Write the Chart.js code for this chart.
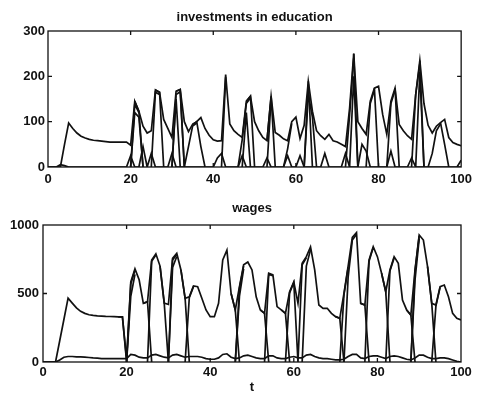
<!DOCTYPE html>
<html>
<head>
<meta charset="utf-8">
<script src="https://cdn.jsdelivr.net/npm/chart.js@4.4.1/dist/chart.umd.min.js"></script>
<style>
  html, body { margin: 0; padding: 0; background: #fff; }
  #wrap { position: relative; width: 477px; height: 405px; }
  .panel { position: absolute; left: 0; width: 477px; }
</style>
</head>
<body>
<div id="wrap">
  <div class="panel" style="top:0;height:195px"><canvas id="invChart"></canvas></div>
  <div class="panel" style="top:195px;height:210px"><canvas id="wageChart"></canvas></div>
</div>
<script>
const N = null;

// time steps t = 0..100
const tSteps = Array.from({ length: 101 }, (_, i) => i);
const xTicks = [0, 20, 40, 60, 80, 100];
const invTicks = [0, 100, 200, 300];
const wageTicks = [0, 500, 1000];

// ---- investments in education ----
const invMain = [
  0, 0, 0, 0, 50, 97, 85, 75, 68, 64,
  61, 59, 58, 57, 56, 55, 55, 55, 55, 55,
  48, 145, 123, 90, 75, 80, 170, 165, 105, 85,
  65, 167, 171, 100, 78, 94, 100, 109, 85, 70,
  60, 57, 58, 204, 95, 80, 72, 65, 145, 156,
  100, 80, 65, 58, 156, 76, 70, 62, 58, 100,
  110, 63, 92, 189, 123, 80, 69, 61, 72, 58,
  55, 50, 45, 130, 250, 100, 85, 72, 145, 174,
  178, 116, 72, 145, 174, 94, 80, 69, 61, 160,
  235, 140, 92, 75, 90, 98, 105, 65, 54, 50,
  47
];
const invRise = [
  N, N, N, N, N, N, N, N, N, N,
  N, N, N, N, N, N, N, N, N, N,
  0, 138, 120, N, N, 0, 165, 160, N, N,
  0, 160, 166, 0, 45, 90, 97, N, N, N,
  N, N, 0, 198, N, N, 0, 60, 140, 152,
  N, N, N, 0, 150, N, N, 0, 40, 96,
  N, N, 0, 182, N, N, N, N, N, N,
  N, N, 0, 115, 240, N, N, 0, 140, 170,
  N, N, 0, 140, 170, N, N, N, 0, 160,
  228, N, 0, 30, 80, 95, N, N, N, 0,
  15
];
const invRise2 = [
  N, N, N, N, N, N, N, N, N, N,
  N, N, N, N, N, N, N, N, N, N,
  0, 120, 110, 0, N, N, N, N, N, N,
  0, 150, 0, N, N, N, N, N, N, N,
  N, N, N, N, N, N, N, 0, 120, 0,
  N, N, N, N, N, N, N, N, N, N,
  N, N, 0, 160, 110, 0, N, N, N, N,
  N, N, N, 0, 200, 0, N, N, N, N,
  N, N, N, N, N, N, N, N, N, 0,
  210, 0, N, N, N, N, N, N, N, N,
  N
];
const invDrop = [
  N, N, N, N, N, N, N, N, N, N,
  N, N, N, N, N, N, N, N, N, N,
  N, 145, 123, 0, N, N, 170, 165, 0, N,
  N, 167, 171, 0, N, 94, 100, 45, 0, N,
  N, N, N, N, N, N, N, N, 145, 156,
  0, N, N, 58, 156, 0, N, N, N, N,
  N, N, N, 189, 0, N, N, N, N, N,
  N, N, N, N, 250, 0, N, N, N, 174,
  0, N, N, N, 174, 0, N, N, N, N,
  235, 0, N, N, N, 98, 50, 0, N, N,
  N
];
const invSmall = [
  0, 0, 0, 5, 3, 0, 0, 0, 0, 0,
  0, 0, 0, 0, 0, 0, 0, 0, 0, 0,
  25, 0, 0, 45, 0, 30, 0, 0, 0, 0,
  30, 0, 0, 0, 0, 0, 0, 0, 0, 0,
  0, 20, 30, 0, 0, 0, 0, 25, 0, 0,
  0, 0, 0, 20, 0, 0, 0, 0, 25, 0,
  0, 25, 0, 0, 0, 0, 0, 30, 0, 0,
  0, 0, 30, 0, 0, 0, 50, 35, 0, 0,
  0, 0, 0, 35, 0, 0, 0, 0, 20, 0,
  0, 0, 0, 0, 0, 0, 0, 0, 0, 0,
  0
];

// ---- wages ----
const wageMain = [
  0, 0, 0, 0, 155, 310, 466, 430, 395, 370,
  355, 345, 340, 337, 335, 333, 332, 331, 330, 330,
  20, 584, 680, 600, 428, 440, 745, 790, 700, 430,
  420, 757, 793, 672, 465, 476, 555, 550, 465, 380,
  331, 331, 428, 745, 817, 500, 380, 550, 709, 730,
  672, 476, 380, 355, 648, 636, 404, 380, 355, 513,
  585, 428, 720, 769, 840, 672, 416, 392, 392, 355,
  331, 319, 500, 700, 910, 945, 428, 416, 745, 842,
  769, 648, 513, 672, 769, 720, 452, 380, 343, 672,
  927, 890, 696, 428, 416, 550, 562, 476, 355, 319,
  307
];
const wageRise = [
  N, N, N, N, N, N, N, N, N, N,
  N, N, N, N, N, N, N, N, N, N,
  0, 570, 670, N, N, 0, 735, 780, N, N,
  0, 745, 785, N, 0, 470, 550, N, N, N,
  N, N, N, N, N, N, 0, 540, 700, N,
  N, N, N, 0, 640, 630, N, N, 0, 505,
  580, 0, 710, 760, N, N, N, N, N, N,
  N, 0, 490, 690, N, N, N, 0, 735, 835,
  N, N, 0, 665, 760, N, N, N, 0, 665,
  920, N, N, 0, 410, 545, N, N, N, N,
  N
];
const wageRise2 = [
  N, N, N, N, N, N, N, N, N, N,
  N, N, N, N, N, N, N, N, N, N,
  0, 480, 640, N, N, N, N, N, N, N,
  0, 690, 770, N, N, N, N, N, N, N,
  N, N, N, N, N, N, 0, 480, 680, N,
  N, N, N, N, N, N, N, N, N, N,
  N, N, 0, 700, 820, N, N, N, N, N,
  N, N, 0, 620, 890, 930, N, N, N, N,
  N, N, N, N, N, N, N, N, 0, 600,
  900, N, N, N, N, N, N, N, N, N,
  N
];
const wageDrop = [
  N, N, N, N, N, N, N, N, N, N,
  N, N, N, N, N, N, N, N, 330, 330,
  0, N, N, N, 428, 440, 0, N, 700, 430,
  0, N, N, 672, 465, 0, N, N, N, N,
  N, N, N, N, N, 500, 380, 0, N, N,
  N, N, 380, 355, 0, N, N, 380, 355, 0,
  N, N, N, N, N, N, N, N, N, N,
  331, 319, 0, N, N, N, 428, 416, 0, N,
  N, 648, 513, 0, N, N, N, 380, 343, 0,
  N, N, 696, 428, 0, N, N, N, N, N,
  N
];
const wageLow = [
  0, 0, 0, 0, 15, 35, 40, 40, 38, 37,
  36, 33, 30, 28, 25, 25, 25, 25, 25, 25,
  25, 55, 50, 35, 30, 30, 50, 55, 45, 35,
  30, 50, 55, 45, 35, 40, 40, 40, 35, 25,
  20, 20, 30, 55, 60, 35, 25, 30, 45, 50,
  40, 30, 25, 25, 45, 45, 30, 25, 25, 35,
  40, 30, 30, 50, 55, 40, 30, 25, 25, 20,
  15, 15, 20, 40, 55, 55, 30, 25, 40, 45,
  45, 35, 25, 40, 45, 40, 30, 20, 15, 30,
  50, 50, 35, 25, 25, 30, 30, 25, 15, 5,
  0
];

const INK = '#111';
const FONT = "'Liberation Sans', Arial, Helvetica, sans-serif";
Chart.defaults.font.family = FONT;
Chart.defaults.color = INK;

function toPoints(values) {
  return tSteps.map((t, i) => ({ x: t, y: values[i] }));
}

function lineSet(values) {
  return {
    data: toPoints(values),
    borderColor: INK,
    borderWidth: 1.7,
    pointRadius: 0,
    fill: false,
    tension: 0,
    spanGaps: false
  };
}

// box around the plot plus small inward ticks (matlab style)
const framePlugin = {
  id: 'frame',
  afterDatasetsDraw(chart) {
    const { ctx, chartArea: a, scales: { x, y } } = chart;
    const len = 4;
    ctx.save();
    ctx.strokeStyle = INK;
    ctx.lineWidth = 1.3;
    ctx.strokeRect(a.left, a.top, a.right - a.left, a.bottom - a.top);
    ctx.beginPath();
    x.ticks.forEach(tk => {
      if (tk.value <= x.min || tk.value >= x.max) return;
      const px = x.getPixelForValue(tk.value);
      ctx.moveTo(px, a.bottom); ctx.lineTo(px, a.bottom - len);
      ctx.moveTo(px, a.top); ctx.lineTo(px, a.top + len);
    });
    y.ticks.forEach(tk => {
      if (tk.value <= y.min || tk.value >= y.max) return;
      const py = y.getPixelForValue(tk.value);
      ctx.moveTo(a.left, py); ctx.lineTo(a.left + len, py);
      ctx.moveTo(a.right, py); ctx.lineTo(a.right - len, py);
    });
    ctx.stroke();
    ctx.restore();
  }
};

function makeChart(id, cfg) {
  const tickFont = { size: 13, weight: 'bold' };
  return new Chart(document.getElementById(id), {
    type: 'line',
    data: { datasets: cfg.series.map(lineSet) },
    options: {
      responsive: true,
      maintainAspectRatio: false,
      animation: false,
      devicePixelRatio: 1,
      layout: { padding: { left: 0, right: cfg.padRight, top: 0, bottom: 0 } },
      plugins: {
        legend: { display: false },
        tooltip: { enabled: false },
        title: {
          display: true,
          text: cfg.title,
          fullSize: false,
          color: INK,
          font: { size: 13, weight: 'bold' },
          padding: cfg.titlePad
        }
      },
      scales: {
        x: {
          type: 'linear',
          min: 0,
          max: 100,
          grid: { display: false, drawTicks: false },
          border: { display: false },
          afterBuildTicks: s => { s.ticks = xTicks.map(v => ({ value: v })); },
          ticks: { font: tickFont, color: INK, padding: cfg.xPad, maxRotation: 0, callback: v => String(v) },
          title: cfg.xTitle ? {
            display: true, text: cfg.xTitle, color: INK,
            font: { size: 13, weight: 'bold' }, padding: { top: 0, bottom: cfg.xTitlePad }
          } : { display: false },
          afterFit: s => { s.height = cfg.xHeight; }
        },
        y: {
          min: 0,
          max: cfg.yTicks[cfg.yTicks.length - 1],
          grid: { display: false, drawTicks: false },
          border: { display: false },
          afterBuildTicks: s => { s.ticks = cfg.yTicks.map(v => ({ value: v })); },
          ticks: { font: tickFont, color: INK, padding: cfg.yPad, callback: v => String(v) },
          afterFit: s => { s.width = cfg.yWidth; }
        }
      }
    },
    plugins: [framePlugin]
  });
}

makeChart('invChart', {
  title: 'investments in education',
  series: [invMain, invRise, invRise2, invDrop, invSmall],
  yTicks: invTicks,
  padRight: 14,
  titlePad: { top: 10, bottom: 5.4 },
  yWidth: 48,
  yPad: 3,
  xHeight: 28,
  xPad: 5
});

makeChart('wageChart', {
  title: 'wages',
  series: [wageMain, wageRise, wageRise2, wageDrop, wageLow],
  yTicks: wageTicks,
  padRight: 16,
  titlePad: { top: 5.2, bottom: 9.2 },
  yWidth: 43,
  yPad: 4,
  xHeight: 43,
  xPad: 3,
  xTitle: 't',
  xTitlePad: 10.2
});
</script>
</body>
</html>
